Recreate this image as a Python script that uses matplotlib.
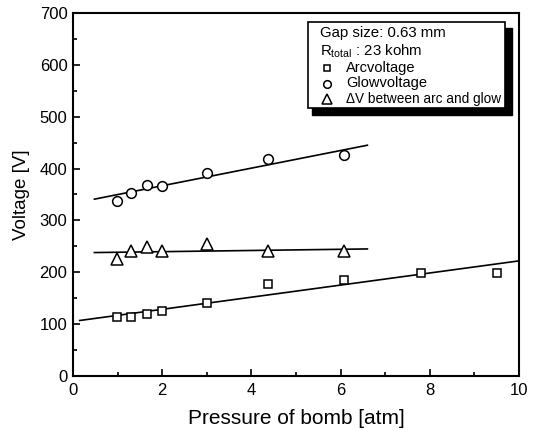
import numpy as np
import matplotlib.pyplot as plt
from matplotlib.patches import Rectangle
from matplotlib.ticker import MultipleLocator

plt.rcParams["font.family"] = ["Liberation Sans", "DejaVu Sans"]

# measured points
pressure = [0.98, 1.31, 1.66, 2.0, 3.0, 4.37, 6.07]
pressure_arc = [0.98, 1.31, 1.66, 2.0, 3.0, 4.37, 6.07, 7.8, 9.5]
arc_v = [114, 113, 119, 126, 140, 177, 186, 199, 198]
glow_v = [338, 352, 368, 367, 392, 418, 426]
delta_v = [225, 241, 249, 241, 254, 241, 241]

# fitted trend lines (endpoints)
arc_fit_x = [0.15, 10.0]
arc_fit_y = [107, 222]
glow_fit_x = [0.48, 6.6]
glow_fit_y = [341, 445]
delta_fit_x = [0.48, 6.6]
delta_fit_y = [238, 245]

fig = plt.figure(figsize=(5.39, 4.30), dpi=100)
ax = fig.add_axes([0.1354, 0.1256, 0.8276, 0.8442])

ax.plot(arc_fit_x, arc_fit_y, color="black", lw=1.2)
ax.plot(glow_fit_x, glow_fit_y, color="black", lw=1.2)
ax.plot(delta_fit_x, delta_fit_y, color="black", lw=1.2)

mk = dict(ls="none", mfc="white", mec="black", mew=1.1, color="black")
ax.plot(pressure_arc, arc_v, marker="s", ms=6, **mk)
ax.plot(pressure, glow_v, marker="o", ms=7, **mk)
ax.plot(pressure, delta_v, marker="^", ms=8, **mk)

ax.set_xlim(0, 10)
ax.set_ylim(0, 700)
ax.xaxis.set_major_locator(MultipleLocator(2))
ax.xaxis.set_minor_locator(MultipleLocator(1))
ax.yaxis.set_major_locator(MultipleLocator(100))
ax.yaxis.set_minor_locator(MultipleLocator(50))
ax.tick_params(which="both", direction="in", labelsize=12, width=1.2)
ax.tick_params(which="major", length=5)
ax.tick_params(which="minor", length=3)
ax.tick_params(axis="x", pad=5)
ax.tick_params(axis="y", pad=4)
for s in ax.spines.values():
    s.set_linewidth(1.5)

ax.set_xlabel("Pressure of bomb [atm]", fontsize=15, labelpad=8)
ax.set_ylabel("Voltage [V]", fontsize=13.5, labelpad=7)

# legend box with shadow
tr = fig.transFigure
W, H = 539, 430
def fbox(x0, y0, x1, y1):
    return (x0 / W, 1 - y1 / H), (x1 - x0) / W, (y1 - y0) / H

xy, w, h = fbox(312, 28, 512, 115)
fig.patches.append(Rectangle(xy, w, h, transform=tr, facecolor="black",
                             edgecolor="black", zorder=5))
xy, w, h = fbox(308, 22, 505, 108)
fig.patches.append(Rectangle(xy, w, h, transform=tr, facecolor="white",
                             edgecolor="black", lw=1.2, zorder=6))

fig.text(320 / W, 1 - 33 / H, "Gap size: 0.63 mm", fontsize=10.8,
         va="center", zorder=7)
fig.text(320 / W, 1 - 51 / H, r"R$_{\mathregular{total}}$ : 23 kohm",
         fontsize=10.8, va="center", zorder=7)
rows = [("s", 5, "Arcvoltage", 10.5), ("o", 5.5, "Glowvoltage", 10.5),
        ("^", 6.5, "\u0394V between arc and glow", 9.8)]
for i, (m, sz, label, fs) in enumerate(rows):
    yy = 1 - (68 + i * 15.5) / H
    fig.lines.append(plt.Line2D([327 / W], [yy], transform=tr, marker=m,
                                ms=sz, mfc="white", mec="black", mew=1.1,
                                ls="none", zorder=7))
    fig.text(346 / W, yy, label, fontsize=fs, va="center", zorder=7)

fig.savefig("out.png", dpi=100)
